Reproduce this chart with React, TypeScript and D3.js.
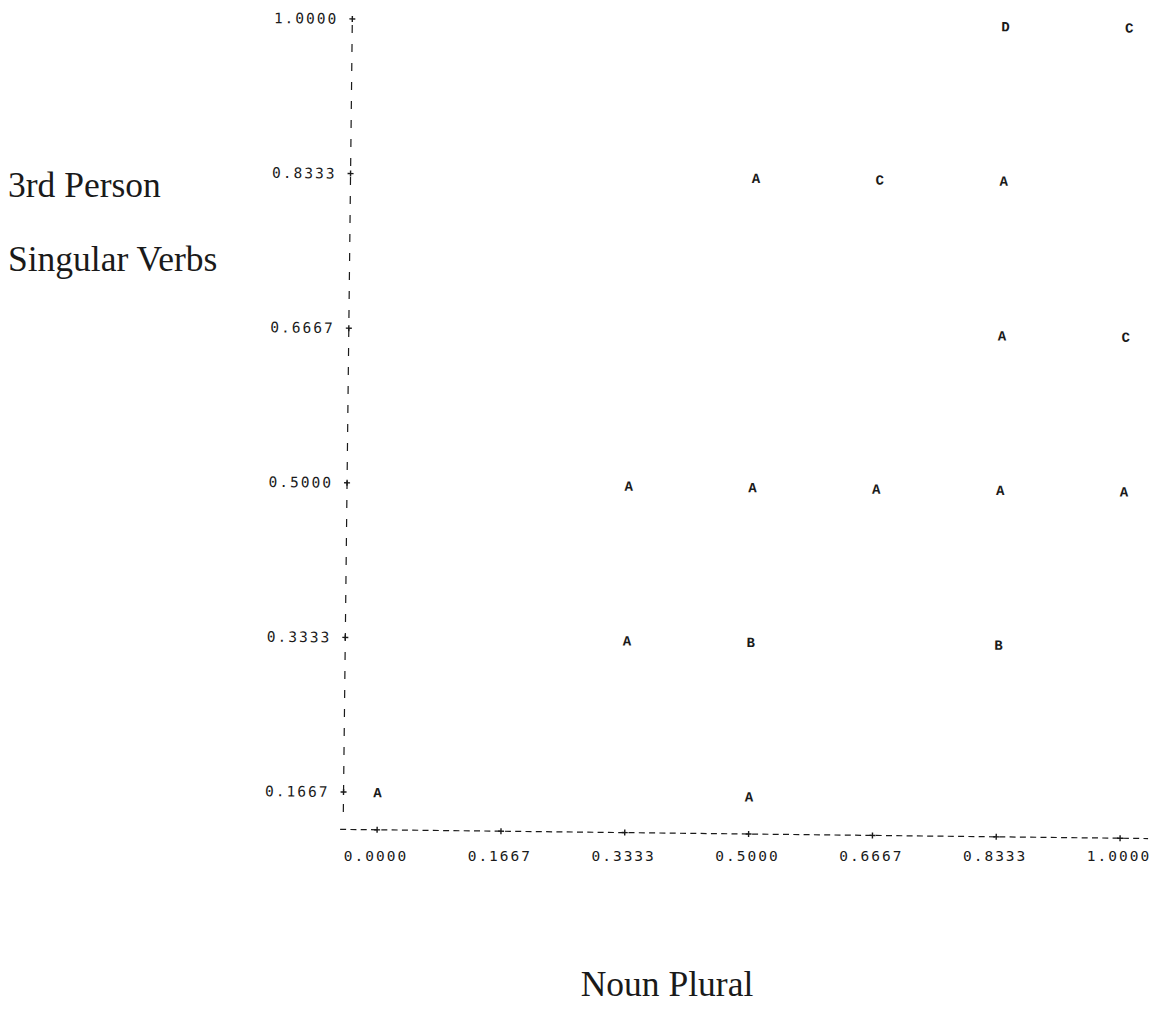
import React from "react";
import * as d3 from "d3";

const xTicks = [0, 0.1667, 0.3333, 0.5, 0.6667, 0.8333, 1.0];
const yTicks = [0.1667, 0.3333, 0.5, 0.6667, 0.8333, 1.0];

const pointX = [0, 0.5, 0.3333, 0.5, 0.8333, 0.3333, 0.5, 0.6667, 0.8333, 1.0, 0.8333, 1.0, 0.5, 0.6667, 0.8333, 0.8333, 1.0];
const pointY = [0.1667, 0.1667, 0.3333, 0.3333, 0.3333, 0.5, 0.5, 0.5, 0.5, 0.5, 0.6667, 0.6667, 0.8333, 0.8333, 0.8333, 1.0, 1.0];
const pointLabel = ["A", "A", "A", "B", "B", "A", "A", "A", "A", "A", "A", "C", "A", "C", "A", "D", "C"];

const yTitleLines = ["3rd Person", "Singular Verbs"];
const xTitle = "Noun Plural";

const W = 1160;
const H = 1026;

export default function App() {
  const x = d3.scaleLinear().domain([0, 1]).range([381, 1124]);
  const y = d3.scaleLinear().domain([0.1667, 1]).range([796.6, 23.5]);
  const axisX = 347;
  const axisY = 834;
  const mono = "'DejaVu Sans Mono', 'Liberation Mono', monospace";
  const ink = "#1a1a1a";
  const fmt = d3.format(".4f");

  const points = pointX.map((px, i) => ({ x: px, y: pointY[i], label: pointLabel[i] }));

  const cross = (cx: number, cy: number, key: string) => (
    <g key={key} stroke={ink} strokeWidth={1.4}>
      <line x1={cx - 3} x2={cx + 3} y1={cy} y2={cy} />
      <line x1={cx} x2={cx} y1={cy - 3} y2={cy + 3} />
    </g>
  );

  return (
    <svg
      width={W}
      height={H}
      viewBox={`0 0 ${W} ${H}`}
      style={{ position: "absolute", left: 0, top: 0, background: "#fff" }}
    >
      <rect x={0} y={0} width={W} height={H} fill="#fff" />
      <g transform="rotate(0.65, 750, 490)">
        {/* Y axis */}
        <line
          x1={axisX}
          x2={axisX}
          y1={y(1) + 6}
          y2={y(0.1667) + 22}
          stroke={ink}
          strokeWidth={1.2}
          strokeDasharray="8 11"
        />
        {yTicks.map((t) => cross(axisX, y(t), `yt${t}`))}
        {yTicks.map((t) => (
          <text
            key={`yl${t}`}
            x={axisX - 14}
            y={y(t)}
            dy="0.35em"
            textAnchor="end"
            fontFamily={mono}
            fontSize={14.5}
            letterSpacing={2}
            fill={ink}
          >
            {fmt(t)}
          </text>
        ))}
        {/* X axis */}
        <line
          x1={axisX - 3}
          x2={x(1) + 28}
          y1={axisY}
          y2={axisY}
          stroke={ink}
          strokeWidth={1.2}
          strokeDasharray="6 4.3"
        />
        {xTicks.map((t) => cross(x(t), axisY, `xt${t}`))}
        {/* Points */}
        {points.map((p, i) => (
          <text
            key={`p${i}`}
            x={x(p.x)}
            y={y(p.y)}
            dy="0.35em"
            textAnchor="middle"
            fontFamily="'Liberation Mono', monospace"
            fontWeight="bold"
            fontSize={14}
            fill={ink}
          >
            {p.label}
          </text>
        ))}
      </g>
      {/* X tick labels (printed level in the original) */}
      {xTicks.map((t) => (
        <text
          key={`xl${t}`}
          x={x(t) - 5}
          y={861}
          textAnchor="middle"
          fontFamily={mono}
          fontSize={14.5}
          letterSpacing={2}
          fill={ink}
        >
          {fmt(t)}
        </text>
      ))}
      {/* Titles */}
      {yTitleLines.map((t, i) => (
        <text
          key={t}
          x={8}
          y={197 + i * 74}
          fontFamily="'Liberation Serif', 'Times New Roman', serif"
          fontSize={35.5}
          fill={ink}
        >
          {t}
        </text>
      ))}
      <text
        x={667}
        y={996}
        textAnchor="middle"
        fontFamily="'Liberation Serif', 'Times New Roman', serif"
        fontSize={35.5}
        fill={ink}
      >
        {xTitle}
      </text>
    </svg>
  );
}
